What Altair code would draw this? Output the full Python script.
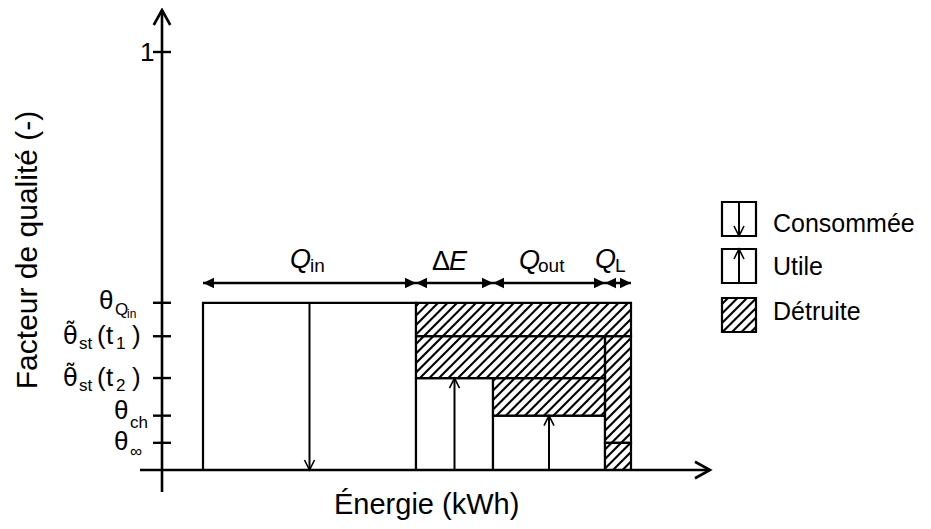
import math
import altair as alt
import pandas as pd

# ---------------- data ----------------
energy_labels = ["Q_in", "ΔE", "Q_out", "Q_L"]
energy_values = [2.13, 0.77, 1.12, 0.26]          # widths along the energy axis
energy_start = 0.41                               # left edge of the Q_in block
quality_names = ["θ_Qin", "θ̃st(t1)", "θ̃st(t2)", "θch", "θ∞"]
quality_values = [0.40, 0.32, 0.22, 0.13, 0.065]  # quality-factor levels
top_tick_value = 1.0
top_tick_label = "1"
legend_labels = ["Consommée", "Utile", "Détruite"]
x_title = "Énergie (kWh)"
y_title = "Facteur de qualité (-)"

# ---------------- layout ----------------
FONT = "Liberation Sans"
X0, SX = 162.0, 100.0      # page x of energy 0, px per unit
Y0, SY = 470.0, 418.0      # page y of quality 0, px per unit
XMAX = 5.5
PAD_L = X0 - 8
PAD_T = Y0 - SY - 8
W, H = XMAX * SX, SY
PAD_R = 915 - PAD_L - W
PAD_B = 513 - PAD_T - H


def dx(px):
    return (px - X0) / SX


def dy(py):
    return (Y0 - py) / SY


def ppx(x):
    return X0 + x * SX


def ppy(y):
    return Y0 - y * SY


xs = alt.Scale(domain=[0, XMAX], nice=False, zero=False)
ys = alt.Scale(domain=[0, 1], nice=False, zero=False)


def X(f):
    return alt.X(f, type="quantitative", scale=xs, axis=None)


def Y(f):
    return alt.Y(f, type="quantitative", scale=ys, axis=None)


def X2(f):
    return alt.X2(f)


def Y2(f):
    return alt.Y2(f)


q_in, d_e, q_out, q_l = energy_values
th_qin, th_t1, th_t2, th_ch, th_inf = quality_values
xa = energy_start
xb = xa + q_in
xc = xb + d_e
xd = xc + q_out
xe = xd + q_l

white = pd.DataFrame([
    dict(x=xa, x2=xb, y=0, y2=th_qin, dir="down"),
    dict(x=xb, x2=xc, y=0, y2=th_t2, dir="up"),
    dict(x=xc, x2=xd, y=0, y2=th_ch, dir="up"),
])
hatched = pd.DataFrame([
    dict(x=xb, x2=xe, y=th_t1, y2=th_qin),
    dict(x=xb, x2=xd, y=th_t2, y2=th_t1),
    dict(x=xc, x2=xd, y=th_ch, y2=th_t2),
    dict(x=xd, x2=xe, y=th_inf, y2=th_t1),
    dict(x=xd, x2=xe, y=0, y2=th_inf),
])

# legend boxes (page px)
LX, LW, LH = 722, 34, 34
leg_tops = [202, 249, 298]
leg_boxes = pd.DataFrame([
    dict(x=dx(LX), x2=dx(LX + LW), y=dy(t + LH), y2=dy(t)) for t in leg_tops
])

HS = 9.5


def hatch_segments(px0, px1, py0, py1):
    segs = []
    k0 = math.floor((px0 + py0) / HS) - 1
    k1 = math.ceil((px1 + py1) / HS) + 1
    for k in range(k0, k1 + 1):
        c = k * HS
        a = max(px0, c - py1)
        b = min(px1, c - py0)
        if b - a > 0.8:
            segs.append(dict(x=dx(a), y=dy(c - a), x2=dx(b), y2=dy(c - b)))
    return segs


hsegs = []
for _, r in hatched.iterrows():
    hsegs += hatch_segments(ppx(r.x), ppx(r.x2), ppy(r.y2), ppy(r.y))
t = leg_tops[2]
hsegs += hatch_segments(LX, LX + LW, t, t + LH)
hatch_df = pd.DataFrame(hsegs)

# vertical arrows inside white blocks and legend boxes
arrows = []
for _, r in white.iterrows():
    m = (r.x + r.x2) / 2
    arrows.append(dict(x=m, y=r.y, y2=r.y2, tipy=(r.y2 if r.dir == "up" else r.y), dir=r.dir))
lm = dx(LX + LW / 2)
arrows.append(dict(x=lm, y=dy(leg_tops[0] + LH), y2=dy(leg_tops[0]), tipy=dy(leg_tops[0] + LH), dir="down"))
arrows.append(dict(x=lm, y=dy(leg_tops[1] + LH), y2=dy(leg_tops[1]), tipy=dy(leg_tops[1]), dir="up"))
arr_df = pd.DataFrame(arrows)

UP_CHEV = "M-0.5,1 L0,0 L0.5,1"
DOWN_CHEV = "M-0.5,-1 L0,0 L0.5,-1"
RIGHT_TRI = "M0,0 L-1,-0.48 L-1,0.48 Z"
LEFT_TRI = "M0,0 L1,-0.48 L1,0.48 Z"

# double arrows above the blocks
ARROW_Y = dy(283)
bounds = [xa, xb, xc, xd, xe]
dbl = pd.DataFrame([dict(x=bounds[i], x2=bounds[i + 1], y=ARROW_Y) for i in range(4)])
heads_l = pd.DataFrame([dict(x=bounds[i], y=ARROW_Y) for i in range(4)])
heads_r = pd.DataFrame([dict(x=bounds[i + 1], y=ARROW_Y) for i in range(4)])

# axes
axis_lines = pd.DataFrame([
    dict(x=dx(140), x2=dx(710), y=0.0, y2=0.0),
    dict(x=0.0, x2=0.0, y=dy(492), y2=dy(10)),
])
tick_vals = quality_values + [top_tick_value]
ticks = pd.DataFrame([dict(x=dx(153), x2=dx(171), y=v, y2=v) for v in tick_vals])

# ---------------- text pieces ----------------
texts = []   # text, page x (left), page baseline, size, italic


def T(s, px, py, size, italic=False):
    texts.append(dict(text=s, x=dx(px), y=dy(py), size=size, italic=italic))


tp = [ppy(v) for v in quality_values]
T(top_tick_label, 140, ppy(top_tick_value) + 9, 26)
# θ_{Q_in}
T("θ", 99, tp[0] + 6, 26)
T("Q", 115, tp[0] + 12, 17)
T("in", 127, tp[0] + 15, 12)
# θ̃_st(t_1), θ̃_st(t_2)
tilde = []
for i, n in ((1, "1"), (2, "2")):
    tilde.append(dict(text="θ\u0303", x=dx(63), y=dy(tp[i] + 8)))
    T("st", 79, tp[i] + 13, 17)
    T("(", 97, tp[i] + 8, 26)
    T("t", 106, tp[i] + 8, 26)
    T(n, 116, tp[i] + 13, 17)
    T(")", 132, tp[i] + 8, 26)
T("θ", 114, tp[3] + 3, 26)
T("ch", 130, tp[3] + 12, 17)
T("θ", 114, tp[4] + 7, 26)
T("∞", 130, tp[4] + 14, 17)

# block labels
T("Q", 290, 268, 27, True)
T("in", 310, 272, 19)
T("Δ", 432, 270, 27)
T("E", 449, 270, 27, True)
T("Q", 519, 269, 27, True)
T("out", 538, 272, 19)
T("Q", 595, 268, 27, True)
T("L", 615, 272, 19)

# legend labels
for lab, base in zip(legend_labels, [232, 275, 320]):
    T(lab, 773, base, 25)

# x title
T(x_title, 334, 514, 29)

tdf = pd.DataFrame(texts)
tilde_df = pd.DataFrame(tilde)

# ---------------- layers ----------------
layers = []
layers.append(alt.Chart(white).mark_rect(fill="white", stroke="black", strokeWidth=2.2).encode(
    x=X("x"), x2=X2("x2"), y=Y("y"), y2=Y2("y2")))
layers.append(alt.Chart(hatched).mark_rect(fill="white", strokeWidth=0).encode(
    x=X("x"), x2=X2("x2"), y=Y("y"), y2=Y2("y2")))
layers.append(alt.Chart(leg_boxes).mark_rect(fill="white", strokeWidth=0).encode(
    x=X("x"), x2=X2("x2"), y=Y("y"), y2=Y2("y2")))
layers.append(alt.Chart(hatch_df).mark_rule(color="black", strokeWidth=2.1).encode(
    x=X("x"), x2=X2("x2"), y=Y("y"), y2=Y2("y2")))
layers.append(alt.Chart(hatched).mark_rect(fillOpacity=0, stroke="black", strokeWidth=2.2).encode(
    x=X("x"), x2=X2("x2"), y=Y("y"), y2=Y2("y2")))
layers.append(alt.Chart(leg_boxes).mark_rect(fillOpacity=0, stroke="black", strokeWidth=2.2).encode(
    x=X("x"), x2=X2("x2"), y=Y("y"), y2=Y2("y2")))
# inner arrows
layers.append(alt.Chart(arr_df).mark_rule(color="black", strokeWidth=2).encode(
    x=X("x"), y=Y("y"), y2=Y2("y2")))
layers.append(alt.Chart(arr_df).transform_filter("datum.dir == 'up'").mark_point(
    shape=UP_CHEV, size=400, filled=False, color="black", strokeWidth=1.6, opacity=1).encode(
    x=X("x"), y=Y("tipy")))
layers.append(alt.Chart(arr_df).transform_filter("datum.dir == 'down'").mark_point(
    shape=DOWN_CHEV, size=400, filled=False, color="black", strokeWidth=1.6, opacity=1).encode(
    x=X("x"), y=Y("tipy")))
# double arrows
layers.append(alt.Chart(dbl).mark_rule(color="black", strokeWidth=2.5).encode(
    x=X("x"), x2=X2("x2"), y=Y("y")))
layers.append(alt.Chart(heads_l).mark_point(shape=LEFT_TRI, size=484, filled=True, color="black", opacity=1).encode(
    x=X("x"), y=Y("y")))
layers.append(alt.Chart(heads_r).mark_point(shape=RIGHT_TRI, size=484, filled=True, color="black", opacity=1).encode(
    x=X("x"), y=Y("y")))
# axes
layers.append(alt.Chart(axis_lines).mark_rule(color="black", strokeWidth=2.6).encode(
    x=X("x"), x2=X2("x2"), y=Y("y"), y2=Y2("y2")))
layers.append(alt.Chart(ticks).mark_rule(color="black", strokeWidth=2.4).encode(
    x=X("x"), x2=X2("x2"), y=Y("y"), y2=Y2("y2")))
ax_tips = pd.DataFrame([dict(x=dx(710), y=0.0, k="r"), dict(x=0.0, y=dy(10), k="u")])
layers.append(alt.Chart(ax_tips).transform_filter("datum.k == 'r'").mark_point(
    shape="M-1,-0.55 L0,0 L-1,0.55", size=900, filled=False, color="black", strokeWidth=2.6, opacity=1).encode(
    x=X("x"), y=Y("y")))
layers.append(alt.Chart(ax_tips).transform_filter("datum.k == 'u'").mark_point(
    shape="M-0.55,1 L0,0 L0.55,1", size=900, filled=False, color="black", strokeWidth=2.6, opacity=1).encode(
    x=X("x"), y=Y("y")))
# texts
layers.append(alt.Chart(tdf).transform_filter("!datum.italic").mark_text(
    font=FONT, align="left", baseline="alphabetic", color="black").encode(
    x=X("x"), y=Y("y"), text="text:N", size=alt.Size("size:Q", scale=None)))
layers.append(alt.Chart(tdf).transform_filter("datum.italic").mark_text(
    font=FONT, fontStyle="italic", align="left", baseline="alphabetic", color="black").encode(
    x=X("x"), y=Y("y"), text="text:N", size=alt.Size("size:Q", scale=None)))
layers.append(alt.Chart(tilde_df).mark_text(
    font="DejaVu Sans", fontSize=24, align="left", baseline="alphabetic", color="black").encode(
    x=X("x"), y=Y("y"), text="text:N"))
ytd = pd.DataFrame([dict(x=dx(28), y=dy(250), text=y_title)])
layers.append(alt.Chart(ytd).mark_text(
    font=FONT, fontSize=30, angle=270, align="center", baseline="middle", color="black").encode(
    x=X("x"), y=Y("y"), text="text:N"))

chart = alt.layer(*layers).properties(
    width=W, height=H,
    padding={"left": PAD_L, "top": PAD_T, "right": PAD_R, "bottom": PAD_B},
    autosize=alt.AutoSizeParams(type="none"),
).configure(background="white").configure_view(stroke=None)

chart.save("out.html", embed_options={"renderer": "svg", "actions": False})
